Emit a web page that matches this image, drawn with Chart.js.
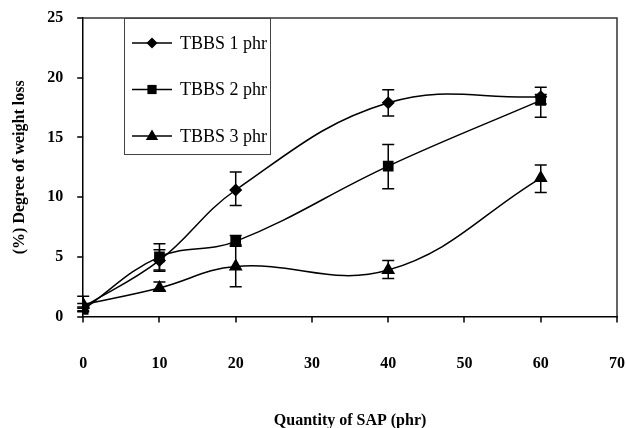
<!DOCTYPE html>
<html lang="en">
  <head>
    <meta charset="UTF-8" />
    <title>Degree of weight loss vs quantity of SAP</title>
    <script src="https://cdn.jsdelivr.net/npm/chart.js@4"></script>
    <style>
      html, body { margin: 0; padding: 0; background: #fff; }
      #wrap { width: 626px; height: 428px; }
    </style>
  </head>
  <body>
    <div id="wrap"><canvas id="myChart" width="626" height="428"></canvas></div>

    <script>
      // values
      const sapQty = [0, 10, 20, 40, 60];
      const seriesNames = ['TBBS 1 phr', 'TBBS 2 phr', 'TBBS 3 phr'];
      const tbbs1 = [0.8, 4.7, 10.6, 17.9, 18.4];
      const tbbs2 = [0.6, 5.0, 6.3, 12.6, 18.1];
      const tbbs3 = [1.0, 2.4, 4.2, 3.9, 11.6];
      // error bars: low / high
      const tbbs1Low = [0.5, 3.8, 9.3, 16.8, 17.8];
      const tbbs1High = [1.1, 5.6, 12.1, 19.0, 19.2];
      const tbbs2Low = [0.4, 3.9, 5.9, 10.7, 16.7];
      const tbbs2High = [0.8, 6.1, 6.8, 14.4, 18.6];
      const tbbs3Low = [0.7, 2.2, 2.5, 3.2, 10.4];
      const tbbs3High = [1.7, 2.9, 6.0, 4.7, 12.7];
      const xTicks = [0, 10, 20, 30, 40, 50, 60, 70];
      const yTicks = [0, 5, 10, 15, 20, 25];

      const serif = "'Liberation Serif', 'Times New Roman', serif";
      const pointStyles = ['rectRot', 'rect', 'triangle'];
      const pointSizes = [5.5, 6.5, 6.5];

      function toXY(ys) {
        return sapQty.map((x, i) => ({ x: x, y: ys[i] }));
      }

      const errors = [
        { low: tbbs1Low, high: tbbs1High },
        { low: tbbs2Low, high: tbbs2High },
        { low: tbbs3Low, high: tbbs3High }
      ];

      // error bars drawn through the chart scales
      const errorBars = {
        id: 'errorBars',
        afterDatasetsDraw(chart) {
          const ctx = chart.ctx;
          const xs = chart.scales.x;
          const ys = chart.scales.y;
          ctx.save();
          ctx.strokeStyle = '#000';
          ctx.lineWidth = 1.5;
          errors.forEach(e => {
            sapQty.forEach((x, i) => {
              const px = xs.getPixelForValue(x);
              const lo = ys.getPixelForValue(e.low[i]);
              const hi = ys.getPixelForValue(e.high[i]);
              ctx.beginPath();
              ctx.moveTo(px, lo); ctx.lineTo(px, hi);
              ctx.moveTo(px - 6, lo); ctx.lineTo(px + 6, lo);
              ctx.moveTo(px - 6, hi); ctx.lineTo(px + 6, hi);
              ctx.stroke();
            });
          });
          ctx.restore();
        }
      };

      function marker(ctx, style, x, y, r) {
        ctx.beginPath();
        if (style === 'rectRot') {
          ctx.moveTo(x - r, y); ctx.lineTo(x, y - r);
          ctx.lineTo(x + r, y); ctx.lineTo(x, y + r);
        } else if (style === 'rect') {
          const s = r * Math.SQRT1_2;
          ctx.rect(x - s, y - s, 2 * s, 2 * s);
        } else {
          ctx.moveTo(x, y - r);
          ctx.lineTo(x + r * 0.95, y + r * 0.6);
          ctx.lineTo(x - r * 0.95, y + r * 0.6);
        }
        ctx.closePath();
        ctx.fill();
      }

      // frame, short outward tick marks, boxed legend inside the plot
      const frameAndLegend = {
        id: 'frameAndLegend',
        afterDraw(chart) {
          const ctx = chart.ctx;
          const a = chart.chartArea;
          const xs = chart.scales.x;
          const ys = chart.scales.y;
          ctx.save();
          ctx.strokeStyle = '#333';
          ctx.lineWidth = 1.5;
          ctx.beginPath();
          ctx.moveTo(a.left, a.top); ctx.lineTo(a.right, a.top); ctx.lineTo(a.right, a.bottom);
          ctx.stroke();

          ctx.strokeStyle = '#000';
          ctx.beginPath();
          xTicks.forEach(v => {
            const px = Math.round(xs.getPixelForValue(v));
            ctx.moveTo(px, a.bottom); ctx.lineTo(px, a.bottom + 6);
          });
          yTicks.forEach(v => {
            const py = Math.round(ys.getPixelForValue(v));
            ctx.moveTo(a.left - 6, py); ctx.lineTo(a.left, py);
          });
          ctx.stroke();

          const bx = 124, by = a.top, bw = 146, bh = 136;
          ctx.fillStyle = '#fff';
          ctx.fillRect(bx, by, bw, bh);
          ctx.strokeStyle = '#444';
          ctx.lineWidth = 1;
          ctx.strokeRect(bx + 0.5, by + 0.5, bw, bh);

          ctx.font = '18px ' + serif;
          ctx.textBaseline = 'middle';
          seriesNames.forEach((name, i) => {
            const ly = by + 25 + i * 46.5;
            ctx.strokeStyle = '#000';
            ctx.lineWidth = 1.5;
            ctx.beginPath();
            ctx.moveTo(bx + 8, ly); ctx.lineTo(bx + 48, ly);
            ctx.stroke();
            ctx.fillStyle = '#000';
            marker(ctx, pointStyles[i], bx + 28, ly, pointSizes[i]);
            ctx.fillText(name, bx + 56, ly + 1);
          });
          ctx.restore();
        }
      };

      const dsBase = {
        borderColor: '#000',
        backgroundColor: '#000',
        borderWidth: 1.5,
        fill: false,
        tension: 0.4
      };

      const ctx = document.getElementById('myChart').getContext('2d');
      const myChart = new Chart(ctx, {
        type: 'line',
        data: {
          datasets: [tbbs1, tbbs2, tbbs3].map((ys, i) => Object.assign({}, dsBase, {
            label: seriesNames[i],
            data: toXY(ys),
            pointStyle: pointStyles[i],
            pointRadius: pointSizes[i],
            pointHoverRadius: pointSizes[i]
          }))
        },
        options: {
          responsive: false,
          animation: false,
          layout: { padding: { top: 18, right: 9, left: 10, bottom: -2 } },
          plugins: {
            legend: { display: false },
            tooltip: { enabled: false }
          },
          scales: {
            x: {
              type: 'linear',
              min: 0,
              max: 70,
              afterBuildTicks: s => { s.ticks = xTicks.map(v => ({ value: v })); },
              grid: { drawOnChartArea: false, tickLength: 38, tickColor: 'rgba(0,0,0,0)' },
              border: { color: '#000', width: 1.5 },
              ticks: { color: '#000', padding: 0, maxRotation: 0, font: { family: serif, size: 16, weight: 'bold' } },
              title: {
                display: true,
                text: 'Quantity of SAP (phr)',
                color: '#000',
                padding: { top: 37, bottom: 0 },
                font: { family: serif, size: 16, weight: 'bold' }
              }
            },
            y: {
              min: 0,
              max: 25,
              afterBuildTicks: s => { s.ticks = yTicks.map(v => ({ value: v })); },
              grid: { drawOnChartArea: false, tickLength: 20, tickColor: 'rgba(0,0,0,0)' },
              border: { color: '#000', width: 1.5 },
              ticks: { color: '#000', padding: 0, font: { family: serif, size: 16, weight: 'bold' } },
              title: {
                display: true,
                text: '(%) Degree of weight loss',
                color: '#000',
                padding: { top: 0, bottom: 18 },
                font: { family: serif, size: 16, weight: 'bold' }
              }
            }
          }
        },
        plugins: [errorBars, frameAndLegend]
      });
    </script>
  </body>
</html>
